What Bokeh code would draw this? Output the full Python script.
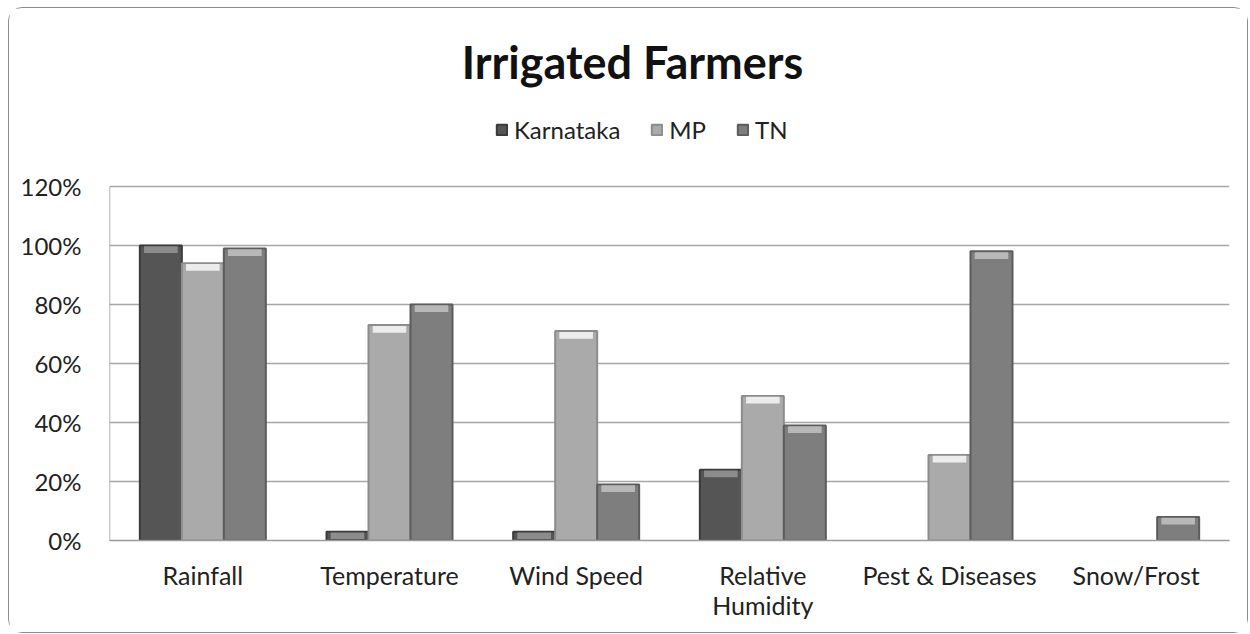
from bokeh.plotting import figure
from bokeh.models import (FactorRange, ColumnDataSource, Legend, LegendItem,
                          FixedTicker, Label)
from bokeh.transform import dodge
from bokeh.embed import file_html
from bokeh.resources import INLINE

categories = ["Rainfall", "Temperature", "Wind Speed", "Relative\nHumidity",
              "Pest & Diseases", "Snow/Frost"]
series_names = ["Karnataka", "MP", "TN"]
karnataka = [100, 3, 3, 24, 0, 0]
mp = [94, 73, 71, 49, 29, 0]
tn = [99, 80, 19, 39, 98, 8]
y_ticks = [0, 20, 40, 60, 80, 100, 120]
title_text = "Irrigated Farmers"

colors = ["#555555", "#aaaaaa", "#7e7e7e"]
edge = ["#3a3a3a", "#8c8c8c", "#5c5c5c"]
hilite = ["#8c8c8c", "#ececec", "#b8b8b8"]

FONT = "Lato"
W = 0.225

# frame covers whole figure height; the value axis keeps 0-120 % in the lower part
p = figure(x_range=FactorRange(*categories), y_range=(0, 180.3),
           width=1240, height=626,
           output_backend="svg", toolbar_location=None,
           min_border_left=100, min_border_right=20, min_border_bottom=94,
           min_border_top=0)
p.margin = (7, 0, 0, 8)
p.styles = {"border": "1.5px solid #8c8c8c", "border-radius": "14px"}

series = [karnataka, mp, tn]
offsets = [-W, 0, W]
renderers = []
for name, vals, off, c, e, h in zip(series_names, series, offsets, colors, edge, hilite):
    src = ColumnDataSource(dict(cat=categories, val=vals,
                                la=[1.0 if v > 0 else 0.0 for v in vals]))
    r = p.vbar(x=dodge("cat", off, range=p.x_range), top="val", bottom=0, width=W,
               source=src, fill_color=c, line_color=e, line_width=2, line_alpha="la")
    renderers.append(r)
    hs = ColumnDataSource(dict(cat=[cc for cc, v in zip(categories, vals) if v > 0],
                               top=[v - 0.3 for v in vals if v > 0],
                               bot=[max(v - 2.6, 0.5) for v in vals if v > 0]))
    p.vbar(x=dodge("cat", off, range=p.x_range), top="top", bottom="bot", width=W * 0.8,
           source=hs, fill_color=h, line_color=None)

# left value-axis line only over the 0-120 % span
axis_src = ColumnDataSource(dict(cat=[categories[0]], y0=[y_ticks[0]], y1=[y_ticks[-1]]))
p.segment(x0=dodge("cat", -0.5, range=p.x_range), x1=dodge("cat", -0.5, range=p.x_range),
          y0="y0", y1="y1", source=axis_src, line_color="#9a9a9a", line_width=1.5)

p.yaxis.ticker = FixedTicker(ticks=y_ticks)
p.yaxis.major_label_overrides = {t: f"{t}%" for t in y_ticks}
for ax in (p.xaxis, p.yaxis):
    ax.major_label_text_font = FONT
    ax.major_label_text_font_size = "24px"
    ax.major_label_text_color = "#222222"
    ax.axis_line_color = "#9a9a9a"
    ax.axis_line_width = 1.5
    ax.major_tick_line_color = None
    ax.minor_tick_line_color = None
p.xaxis.major_label_text_font_size = "25px"
p.xaxis.major_label_text_line_height = 1.0
p.yaxis.axis_line_color = None
p.yaxis.major_label_standoff = 22
p.xaxis.major_label_standoff = 13
p.xgrid.grid_line_color = None
p.ygrid.grid_line_color = "#a6a6a6"
p.ygrid.grid_line_width = 1.5
p.outline_line_color = None
p.x_range.range_padding = 0
p.x_range.group_padding = 0

p.add_layout(Label(x=523, y=479, x_units="screen", y_units="screen", text=title_text,
                   text_align="center", text_baseline="middle", text_font=FONT,
                   text_font_size="45px", text_font_style="bold", text_color="#111111"))

legend = Legend(items=[LegendItem(label=n, renderers=[r]) for n, r in zip(series_names, renderers)],
                orientation="horizontal", location=(386, 396),
                label_text_font=FONT, label_text_font_size="24px", label_text_color="#222222",
                label_height=24, glyph_width=13, glyph_height=13, spacing=30, label_standoff=6,
                border_line_color=None, background_fill_alpha=0, margin=0, padding=4)
p.add_layout(legend)

open("out.html", "w").write(file_html(p, INLINE))
